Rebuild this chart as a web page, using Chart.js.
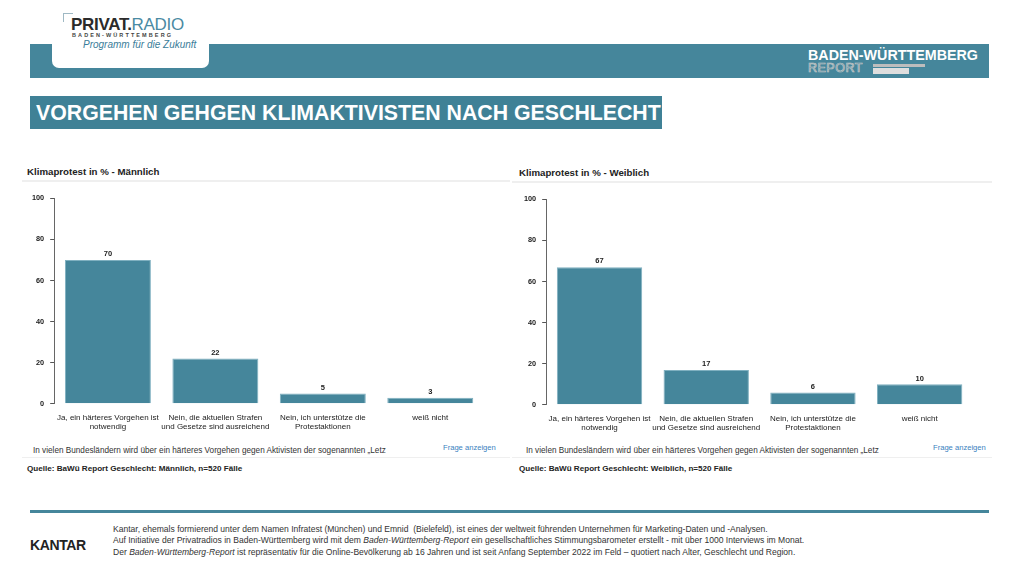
<!DOCTYPE html>
<html>
<head>
<meta charset="utf-8">
<title>Vorgehen gegen Klimaktivisten nach Geschlecht</title>
<script src="https://cdn.jsdelivr.net/npm/chart.js"></script>
<style>
  body { margin: 0; width: 1019px; height: 573px; position: relative; background: #fff; font-family: "Liberation Sans", Arial, sans-serif; overflow: hidden; }
  .abs { position: absolute; }
  .band { left: 30px; top: 44px; width: 959px; height: 34px; background: #45869b; }
  .logo { left: 52px; top: 0; width: 157px; height: 68px; background: #fff; border-radius: 0 0 7px 7px; }
  .title { left: 30px; top: 96px; width: 632px; height: 33px; background: #3f8196; color: #fff; font-weight: bold; font-size: 21.3px; line-height: 34px; padding-left: 6px; box-sizing: border-box; white-space: nowrap; }
  .ptitle { font-weight: bold; font-size: 9.7px; color: #222; }
  .sep { height: 2px; background: #efefef; }
  .note { font-size: 8.2px; color: #333; white-space: nowrap; }
  .link { font-size: 7.6px; color: #3a7fc0; }
  .quelle { font-weight: bold; font-size: 8.1px; color: #222; }
  .foot { font-family: "Liberation Sans Narrow", "Liberation Sans", sans-serif; font-size: 8.55px; color: #333; line-height: 11.3px; white-space: nowrap; }
</style>
</head>
<body>
<div class="abs band"></div>
<div class="abs logo"></div>
<div class="abs" style="left:63px;top:13px;width:9px;height:8px;border-left:1.5px solid #9fb9c4;border-top:1.5px solid #9fb9c4;"></div>
<div class="abs" style="left:71px;top:15px;font-size:17px;font-weight:bold;color:#2b2b2b;letter-spacing:-0.3px;">PRIVAT.<span style="color:#4a8aa3;font-weight:normal;">RADIO</span></div>
<div class="abs" style="left:72px;top:32px;font-size:5.5px;font-weight:bold;color:#444;letter-spacing:2.1px;">BADEN-WÜRTTEMBERG</div>
<div class="abs" style="left:83px;top:39px;font-size:10px;font-style:italic;color:#3a7d99;">Programm für die Zukunft</div>

<div class="abs" style="left:808px;top:47px;font-size:14.3px;font-weight:bold;color:#fff;">BADEN-WÜRTTEMBERG</div>
<div class="abs" style="left:808px;top:61px;font-size:12.5px;color:#45869b;-webkit-text-stroke:0.7px #c9c9c9;letter-spacing:0.5px;">REPORT</div>
<div class="abs" style="left:873px;top:64px;width:52px;height:3px;background:#bdbdbd;"></div>
<div class="abs" style="left:873px;top:68px;width:36px;height:6px;background:#dedede;"></div>

<div class="abs title">VORGEHEN GEHGEN KLIMAKTIVISTEN NACH GESCHLECHT</div>

<!-- left panel -->
<div class="abs ptitle" style="left:27px;top:166px;">Klimaprotest in % - Männlich</div>
<div class="abs sep" style="left:22px;top:180px;width:488px;"></div>
<div class="abs" style="left:22px;top:188px;width:488px;height:245px;"><canvas id="chartM"></canvas></div>
<div class="abs note" style="left:33px;top:446px;">In vielen Bundesländern wird über ein härteres Vorgehen gegen Aktivisten der sogenannten „Letz</div>
<div class="abs link" style="left:443px;top:443px;">Frage anzeigen</div>
<div class="abs sep" style="left:22px;top:457px;width:488px;height:1px;"></div>
<div class="abs quelle" style="left:27px;top:464px;">Quelle: BaWü Report Geschlecht: Männlich, n=520 Fälle</div>

<!-- right panel -->
<div class="abs ptitle" style="left:519px;top:167px;">Klimaprotest in % - Weiblich</div>
<div class="abs sep" style="left:512px;top:181px;width:480px;"></div>
<div class="abs" style="left:514px;top:189px;width:488px;height:245px;"><canvas id="chartW"></canvas></div>
<div class="abs note" style="left:526px;top:446px;">In vielen Bundesländern wird über ein härteres Vorgehen gegen Aktivisten der sogenannten „Letz</div>
<div class="abs link" style="left:933px;top:443px;">Frage anzeigen</div>
<div class="abs sep" style="left:512px;top:457px;width:480px;height:1px;"></div>
<div class="abs quelle" style="left:519px;top:464px;">Quelle: BaWü Report Geschlecht: Weiblich, n=520 Fälle</div>

<!-- footer -->
<div class="abs" style="left:30px;top:510px;width:959px;height:3px;background:#45869b;"></div>
<div class="abs" style="left:30px;top:537px;font-size:14px;font-weight:bold;color:#222;letter-spacing:-0.4px;">KANTAR</div>
<div class="abs foot" style="left:113px;top:524px;">
Kantar, ehemals formierend unter dem Namen Infratest (München) und Emnid &nbsp;(Bielefeld), ist eines der weltweit führenden Unternehmen für Marketing-Daten und -Analysen.<br>
Auf Initiative der Privatradios in Baden-Württemberg wird mit dem <i>Baden-Württemberg-Report</i> ein gesellschaftliches Stimmungsbarometer erstellt - mit über 1000 Interviews im Monat.<br>
Der <i>Baden-Württemberg-Report</i> ist repräsentativ für die Online-Bevölkerung ab 16 Jahren und ist seit Anfang September 2022 im Feld – quotiert nach Alter, Geschlecht und Region.
</div>

<script>
const categories = [
  ["Ja, ein härteres Vorgehen ist", "notwendig"],
  ["Nein, die aktuellen Strafen", "und Gesetze sind ausreichend"],
  ["Nein, ich unterstütze die", "Protestaktionen"],
  ["weiß nicht"]
];
const maennlich = [70, 22, 5, 3];
const weiblich = [67, 17, 6, 10];
const yTicks = [0, 20, 40, 60, 80, 100];

const barColor = "#45869b";

const valueLabels = {
  id: "valueLabels",
  afterDatasetsDraw(chart) {
    const ctx = chart.ctx;
    ctx.save();
    ctx.font = "bold 7.5px 'Liberation Sans', Arial, sans-serif";
    ctx.fillStyle = "#222";
    ctx.textAlign = "center";
    ctx.textBaseline = "bottom";
    chart.getDatasetMeta(0).data.forEach((bar, i) => {
      ctx.fillText(chart.data.datasets[0].data[i], bar.x, bar.y - 2);
    });
    ctx.restore();
  }
};

function makeChart(id, values, padLeft, padRight) {
  new Chart(document.getElementById(id), {
    type: "bar",
    data: {
      labels: categories,
      datasets: [{
        data: values,
        backgroundColor: barColor,
        borderColor: "#7fb0c0",
        borderWidth: 1,
        barPercentage: 0.8,
        categoryPercentage: 1
      }]
    },
    options: {
      responsive: true,
      maintainAspectRatio: false,
      animation: false,
      layout: { padding: { left: padLeft, right: padRight, top: 8, bottom: 0 } },
      plugins: { legend: { display: false }, tooltip: { enabled: false } },
      scales: {
        x: {
          grid: { display: false },
          border: { display: false },
          ticks: {
            color: "#222",
            font: { size: 8, family: "'Liberation Sans', Arial, sans-serif" },
            maxRotation: 0,
            autoSkip: false,
            padding: 1
          }
        },
        y: {
          min: 0,
          max: 100,
          afterBuildTicks: (axis) => { axis.ticks = yTicks.map(v => ({ value: v })); },
          grid: { display: true, drawOnChartArea: false, drawTicks: true, tickLength: 4, color: "#555" },
          border: { display: true, color: "#666", width: 1 },
          ticks: {
            color: "#222",
            font: { size: 7.3, weight: "bold", family: "'Liberation Sans', Arial, sans-serif" },
            padding: 6
          }
        }
      }
    },
    plugins: [valueLabels]
  });
}

makeChart("chartM", maennlich, 4, 26);
makeChart("chartW", weiblich, 4, 29);
</script>
</body>
</html>
